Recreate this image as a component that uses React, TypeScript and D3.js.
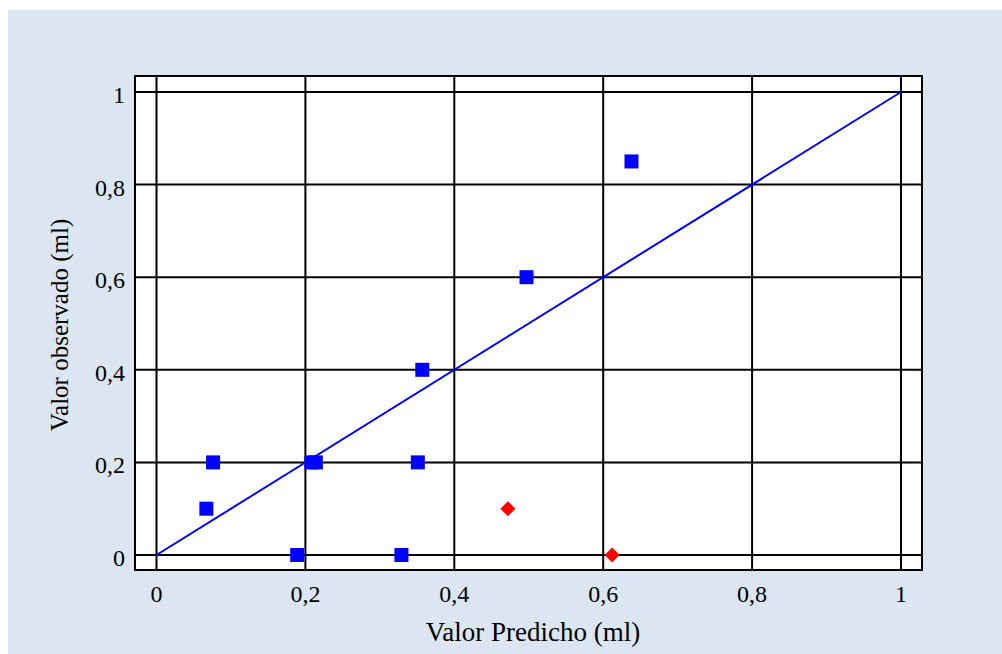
import React from "react";
import * as d3 from "d3";

const ticks = [0, 0.2, 0.4, 0.6, 0.8, 1];
const tickLabels = ["0", "0,2", "0,4", "0,6", "0,8", "1"];

const predictedBlue = [0.067, 0.076, 0.189, 0.208, 0.214, 0.329, 0.351, 0.357, 0.497, 0.638];
const observedBlue = [0.1, 0.2, 0, 0.2, 0.2, 0, 0.2, 0.4, 0.6, 0.85];

const predictedRed = [0.472, 0.612];
const observedRed = [0.1, 0];

const refLine = [0, 1];

const W = 1002;
const H = 654;
const plotLeft = 135;
const plotRight = 922;
const plotTop = 76;
const plotBottom = 570;

export default function App() {
  const x = d3.scaleLinear().domain([0, 1]).range([156.5, 901]);
  const y = d3.scaleLinear().domain([0, 1]).range([555, 92]);
  const line = d3
    .line<number>()
    .x((d) => x(d))
    .y((d) => y(d));
  const font = "'Liberation Serif', 'Times New Roman', serif";
  const sq = 14;
  const dm = 7.5;
  const diamond = (cx: number, cy: number) =>
    `M${cx},${cy - dm}L${cx + dm},${cy}L${cx},${cy + dm}L${cx - dm},${cy}Z`;
  return (
    <svg
      width={W}
      height={H}
      style={{ position: "absolute", left: 0, top: 0, display: "block" }}
    >
      <rect x={0} y={0} width={W} height={H} fill="#ffffff" />
      <rect x={8} y={10} width={W - 8} height={H - 10} fill="#dce6f2" />
      <rect
        x={plotLeft}
        y={plotTop}
        width={plotRight - plotLeft}
        height={plotBottom - plotTop}
        fill="#ffffff"
      />
      {ticks.map((t) => (
        <line
          key={"gx" + t}
          x1={x(t)}
          x2={x(t)}
          y1={plotTop}
          y2={plotBottom}
          stroke="#000"
          strokeWidth={2}
        />
      ))}
      {ticks.map((t) => (
        <line
          key={"gy" + t}
          x1={plotLeft}
          x2={plotRight}
          y1={y(t)}
          y2={y(t)}
          stroke="#000"
          strokeWidth={2}
        />
      ))}
      <rect
        x={plotLeft}
        y={plotTop}
        width={plotRight - plotLeft}
        height={plotBottom - plotTop}
        fill="none"
        stroke="#000"
        strokeWidth={2}
      />
      <path d={line(refLine) || ""} stroke="#0000ff" strokeWidth={2} fill="none" />
      {predictedBlue.map((p, i) => (
        <rect
          key={"b" + i}
          x={x(p) - sq / 2}
          y={y(observedBlue[i]) - sq / 2}
          width={sq}
          height={sq}
          fill="#0000ff"
        />
      ))}
      {predictedRed.map((p, i) => (
        <path key={"r" + i} d={diamond(x(p), y(observedRed[i]))} fill="#ff0000" />
      ))}
      {ticks.map((t, i) => (
        <text
          key={"tx" + t}
          x={x(t)}
          y={602}
          textAnchor="middle"
          fontFamily={font}
          fontSize={24}
          fill="#000"
        >
          {tickLabels[i]}
        </text>
      ))}
      {ticks.map((t, i) => (
        <text
          key={"ty" + t}
          x={125}
          y={y(t) + 11}
          textAnchor="end"
          fontFamily={font}
          fontSize={24}
          fill="#000"
        >
          {tickLabels[i]}
        </text>
      ))}
      <text
        x={533}
        y={641}
        textAnchor="middle"
        fontFamily={font}
        fontSize={27}
        fill="#000"
      >
        Valor Predicho (ml)
      </text>
      <text
        transform={`translate(68,325) rotate(-90)`}
        textAnchor="middle"
        fontFamily={font}
        fontSize={25}
        fill="#000"
      >
        Valor observado (ml)
      </text>
    </svg>
  );
}
